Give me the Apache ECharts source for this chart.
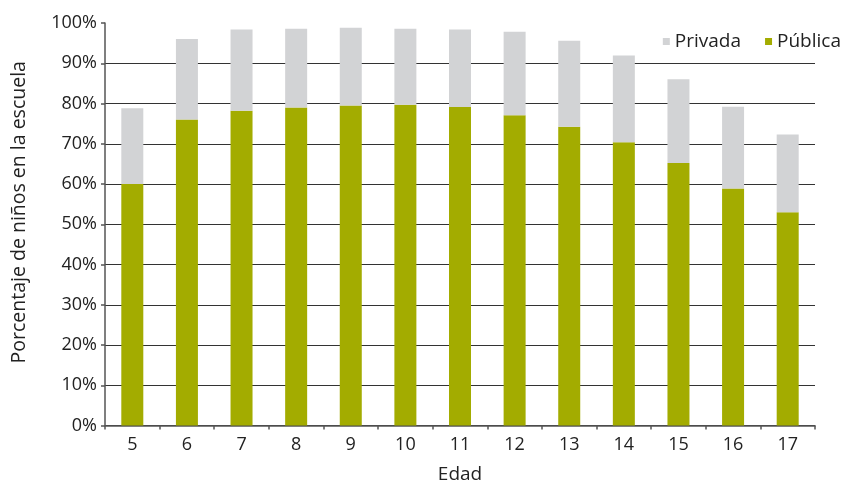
<!DOCTYPE html>
<html>
<head>
<meta charset="utf-8">
<script src="https://cdn.jsdelivr.net/npm/echarts@6/dist/echarts.min.js"></script>
<style>
  html, body { margin: 0; padding: 0; background: #fff; }
  #chart { width: 846px; height: 485px; }
</style>
</head>
<body>
<div id="chart"></div>
<script>
// Edades (años)
const ages = ['5', '6', '7', '8', '9', '10', '11', '12', '13', '14', '15', '16', '17'];
// Porcentaje de niños en escuela pública
const publica = [60.0, 76.0, 78.2, 79.0, 79.5, 79.7, 79.1, 77.1, 74.2, 70.4, 65.2, 58.9, 53.0];
// Porcentaje de niños en escuela privada
const privada = [18.8, 20.0, 20.2, 19.6, 19.3, 18.9, 19.3, 20.7, 21.4, 21.5, 20.8, 20.3, 19.3];
// Marcas del eje vertical
const yTicks = [0, 10, 20, 30, 40, 50, 60, 70, 80, 90, 100];

const FONT = '"Open Sans", sans-serif';
const GREEN = '#a3ac00';
const GREY = '#d2d3d5';

// one colour per split line; the top one (100%) is left without a line
const gridColors = yTicks.map((v, i) => (i === yTicks.length - 1 ? 'rgba(0,0,0,0)' : '#333333'));

const chart = echarts.init(document.getElementById('chart'), null, { renderer: 'canvas' });
chart.setOption({
  animation: false,
  textStyle: { fontFamily: FONT },
  grid: { left: 105, right: 31, top: 23, bottom: 59.5, containLabel: false, outerBoundsMode: 'none' },
  legend: {
    data: ['Privada', 'Pública'],
    right: 0,
    top: 27,
    icon: 'rect',
    itemWidth: 7,
    itemHeight: 7,
    itemGap: 24,
    textStyle: { fontFamily: FONT, fontSize: 19, color: '#222', padding: [0, 0, 0, 0] }
  },
  xAxis: {
    type: 'category',
    data: ages,
    name: 'Edad',
    nameLocation: 'middle',
    nameGap: 40,
    nameTextStyle: { fontFamily: FONT, fontSize: 19, color: '#222' },
    axisLine: { lineStyle: { color: '#555', width: 1.5 } },
    axisTick: { show: true, length: 4, lineStyle: { color: '#555', width: 1.5 } },
    axisLabel: { fontFamily: FONT, fontSize: 18, color: '#222', margin: 10 }
  },
  yAxis: {
    type: 'value',
    min: 0,
    max: 100,
    interval: 10,
    name: 'Porcentaje de niños en la escuela',
    nameLocation: 'middle',
    nameGap: 76,
    nameTextStyle: { fontFamily: FONT, fontSize: 19.5, color: '#222', padding: [0, 0, 0, 24] },
    axisLine: { show: true, lineStyle: { color: '#555', width: 1.5 } },
    axisTick: { show: true, length: 4, lineStyle: { color: '#555', width: 1.5 } },
    axisLabel: { fontFamily: FONT, fontSize: 18, color: '#222', margin: 8, formatter: '{value}%' },
    splitLine: { show: true, lineStyle: { color: gridColors, width: 1 } }
  },
  series: [
    {
      name: 'Pública',
      type: 'bar',
      stack: 'total',
      data: publica,
      barWidth: 22,
      itemStyle: { color: GREEN }
    },
    {
      name: 'Privada',
      type: 'bar',
      stack: 'total',
      data: privada,
      barWidth: 22,
      itemStyle: { color: GREY }
    }
  ]
});
</script>
</body>
</html>
